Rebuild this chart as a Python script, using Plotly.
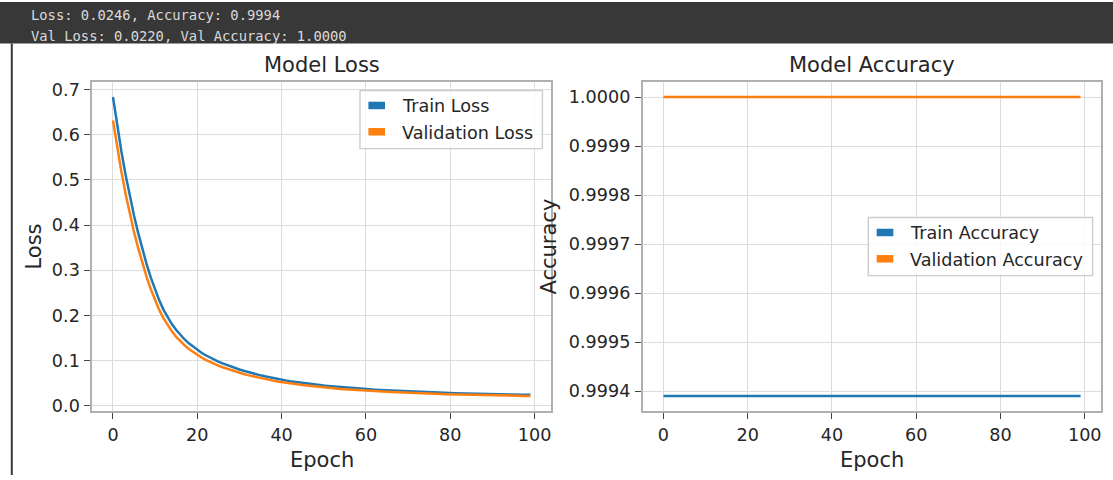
import plotly.graph_objects as go

# ---------------- data ----------------
epochs = list(range(100))

train_loss = [
    0.6830, 0.6199, 0.5625, 0.5105, 0.4633, 0.4205, 0.3816, 0.3457, 0.3128, 0.2830,
    0.2563, 0.2329, 0.2126, 0.1953, 0.1805, 0.1678, 0.1567, 0.1470, 0.1384, 0.1308,
    0.1239, 0.1177, 0.1121, 0.1070, 0.1023, 0.0980, 0.0941, 0.0904, 0.0869, 0.0837,
    0.0806, 0.0777, 0.0749, 0.0724, 0.0700, 0.0677, 0.0655, 0.0634, 0.0615, 0.0597,
    0.0579, 0.0563, 0.0548, 0.0534, 0.0520, 0.0507, 0.0494, 0.0483, 0.0471, 0.0461,
    0.0450, 0.0441, 0.0432, 0.0423, 0.0415, 0.0407, 0.0399, 0.0392, 0.0385, 0.0379,
    0.0373, 0.0367, 0.0361, 0.0356, 0.0351, 0.0345, 0.0340, 0.0335, 0.0331, 0.0326,
    0.0322, 0.0317, 0.0313, 0.0309, 0.0305, 0.0302, 0.0298, 0.0294, 0.0291, 0.0288,
    0.0285, 0.0282, 0.0279, 0.0277, 0.0274, 0.0272, 0.0269, 0.0267, 0.0265, 0.0263,
    0.0261, 0.0259, 0.0257, 0.0255, 0.0253, 0.0252, 0.0250, 0.0249, 0.0247, 0.0246,
]

val_loss = [
    0.6311, 0.5715, 0.5175, 0.4686, 0.4244, 0.3843, 0.3484, 0.3153, 0.2850, 0.2575,
    0.2332, 0.2119, 0.1935, 0.1777, 0.1643, 0.1527, 0.1426, 0.1338, 0.1259, 0.1190,
    0.1127, 0.1071, 0.1020, 0.0974, 0.0931, 0.0892, 0.0856, 0.0823, 0.0791, 0.0762,
    0.0733, 0.0707, 0.0682, 0.0659, 0.0637, 0.0616, 0.0596, 0.0577, 0.0560, 0.0543,
    0.0527, 0.0513, 0.0499, 0.0486, 0.0473, 0.0461, 0.0450, 0.0439, 0.0429, 0.0419,
    0.0410, 0.0401, 0.0393, 0.0385, 0.0377, 0.0370, 0.0363, 0.0357, 0.0351, 0.0345,
    0.0339, 0.0334, 0.0329, 0.0323, 0.0318, 0.0313, 0.0309, 0.0304, 0.0300, 0.0295,
    0.0291, 0.0287, 0.0283, 0.0280, 0.0276, 0.0273, 0.0269, 0.0266, 0.0263, 0.0260,
    0.0257, 0.0254, 0.0252, 0.0249, 0.0247, 0.0244, 0.0242, 0.0240, 0.0238, 0.0236,
    0.0234, 0.0232, 0.0230, 0.0229, 0.0227, 0.0226, 0.0224, 0.0223, 0.0221, 0.0220,
]

train_acc = [
    0.99939, 0.99939, 0.99939, 0.99939, 0.99939, 0.99939, 0.99939, 0.99939, 0.99939, 0.99939,
    0.99939, 0.99939, 0.99939, 0.99939, 0.99939, 0.99939, 0.99939, 0.99939, 0.99939, 0.99939,
    0.99939, 0.99939, 0.99939, 0.99939, 0.99939, 0.99939, 0.99939, 0.99939, 0.99939, 0.99939,
    0.99939, 0.99939, 0.99939, 0.99939, 0.99939, 0.99939, 0.99939, 0.99939, 0.99939, 0.99939,
    0.99939, 0.99939, 0.99939, 0.99939, 0.99939, 0.99939, 0.99939, 0.99939, 0.99939, 0.99939,
    0.99939, 0.99939, 0.99939, 0.99939, 0.99939, 0.99939, 0.99939, 0.99939, 0.99939, 0.99939,
    0.99939, 0.99939, 0.99939, 0.99939, 0.99939, 0.99939, 0.99939, 0.99939, 0.99939, 0.99939,
    0.99939, 0.99939, 0.99939, 0.99939, 0.99939, 0.99939, 0.99939, 0.99939, 0.99939, 0.99939,
    0.99939, 0.99939, 0.99939, 0.99939, 0.99939, 0.99939, 0.99939, 0.99939, 0.99939, 0.99939,
    0.99939, 0.99939, 0.99939, 0.99939, 0.99939, 0.99939, 0.99939, 0.99939, 0.99939, 0.99939,
]

val_acc = [
    1.0, 1.0, 1.0, 1.0, 1.0, 1.0, 1.0, 1.0, 1.0, 1.0,
    1.0, 1.0, 1.0, 1.0, 1.0, 1.0, 1.0, 1.0, 1.0, 1.0,
    1.0, 1.0, 1.0, 1.0, 1.0, 1.0, 1.0, 1.0, 1.0, 1.0,
    1.0, 1.0, 1.0, 1.0, 1.0, 1.0, 1.0, 1.0, 1.0, 1.0,
    1.0, 1.0, 1.0, 1.0, 1.0, 1.0, 1.0, 1.0, 1.0, 1.0,
    1.0, 1.0, 1.0, 1.0, 1.0, 1.0, 1.0, 1.0, 1.0, 1.0,
    1.0, 1.0, 1.0, 1.0, 1.0, 1.0, 1.0, 1.0, 1.0, 1.0,
    1.0, 1.0, 1.0, 1.0, 1.0, 1.0, 1.0, 1.0, 1.0, 1.0,
    1.0, 1.0, 1.0, 1.0, 1.0, 1.0, 1.0, 1.0, 1.0, 1.0,
    1.0, 1.0, 1.0, 1.0, 1.0, 1.0, 1.0, 1.0, 1.0, 1.0,
]

loss_names = ["Train Loss", "Validation Loss"]
acc_names = ["Train Accuracy", "Validation Accuracy"]
subplot_titles = ["Model Loss", "Model Accuracy"]
x_label = "Epoch"
y_labels = ["Loss", "Accuracy"]
epoch_ticks = [0, 20, 40, 60, 80, 100]
loss_ticks = [0.0, 0.1, 0.2, 0.3, 0.4, 0.5, 0.6, 0.7]
acc_ticks = [0.9994, 0.9995, 0.9996, 0.9997, 0.9998, 0.9999, 1.0]

header_lines = [
    f"Loss: {train_loss[-1]:.4f}, Accuracy: {train_acc[-1]:.4f}",
    f"Val Loss: {val_loss[-1]:.4f}, Val Accuracy: {val_acc[-1]:.4f}",
]

# ---------------- style / layout ----------------
W, H = 1113, 480
COLORS = ["#1f77b4", "#ff7f0e"]
FONT = "DejaVu Sans"
TXT = "#262626"


def px(x):
    return x / W


def py(y):
    return 1 - y / H


LEFT = (92.1, 551.2)
RIGHT = (642.6, 1101.4)
TOP, BOTTOM = 81.3, 415.0


def pad_range(lo, hi):
    m = 0.05 * (hi - lo)
    return [lo - m, hi + m]


x_range = pad_range(min(epochs), max(epochs))
loss_range = pad_range(min(min(train_loss), min(val_loss)), max(max(train_loss), max(val_loss)))
acc_range = pad_range(min(min(train_acc), min(val_acc)), max(max(train_acc), max(val_acc)))

axis_common = dict(
    showline=True, mirror=True, linecolor="#b0b0b0", linewidth=1.5,
    showgrid=True, gridcolor="#dcdcdc", gridwidth=1.2, zeroline=False,
    ticks="outside", ticklen=6, tickwidth=1.3, tickcolor="#444444",
    tickfont=dict(family=FONT, size=17.6, color=TXT),
    ticklabelstandoff=1,
)

fig = go.Figure()

for i, (name, ys) in enumerate(zip(loss_names, [train_loss, val_loss])):
    fig.add_trace(go.Scatter(x=epochs, y=ys, mode="lines", name=name,
                             line=dict(color=COLORS[i], width=2.5),
                             xaxis="x", yaxis="y", showlegend=False))
for i, (name, ys) in enumerate(zip(acc_names, [train_acc, val_acc])):
    fig.add_trace(go.Scatter(x=epochs, y=ys, mode="lines", name=name,
                             line=dict(color=COLORS[i], width=2.5),
                             xaxis="x2", yaxis="y2", showlegend=False))

fig.update_layout(
    width=W, height=H,
    margin=dict(l=0, r=0, t=0, b=0),
    paper_bgcolor="white", plot_bgcolor="white",
    showlegend=False,
    xaxis=dict(domain=[px(LEFT[0]), px(LEFT[1])], range=x_range, anchor="y",
               tickvals=epoch_ticks, **axis_common),
    yaxis=dict(domain=[py(BOTTOM), py(TOP)], range=loss_range, anchor="x",
               tickvals=loss_ticks, tickformat=".1f", **axis_common),
    xaxis2=dict(domain=[px(RIGHT[0]), px(RIGHT[1])], range=x_range, anchor="y2",
                tickvals=epoch_ticks, **axis_common),
    yaxis2=dict(domain=[py(BOTTOM), py(TOP)], range=acc_range, anchor="x2",
                tickvals=acc_ticks, tickformat=".4f", **axis_common),
)

shapes = []
annotations = []

# notebook output header bar + cell border
shapes.append(dict(type="rect", xref="paper", yref="paper", x0=0, x1=1, y0=py(42), y1=1,
                   fillcolor="#383838", line=dict(width=0), layer="below"))
shapes.append(dict(type="line", xref="paper", yref="paper", x0=px(11.8), x1=px(11.8),
                   y0=0, y1=py(42), line=dict(color="#3a3a3a", width=2)))
for line, yc in zip(header_lines, [13, 34]):
    annotations.append(dict(text=line, xref="paper", yref="paper", x=px(29), y=py(yc),
                            xanchor="left", yanchor="middle", showarrow=False,
                            font=dict(family="DejaVu Sans Mono", size=13.8, color="#dadada")))

# subplot titles and axis labels
for (x0, x1), title, ylab, ylab_x in zip([LEFT, RIGHT], subplot_titles, y_labels, [34, 549]):
    cx = (x0 + x1) / 2
    annotations.append(dict(text=title, xref="paper", yref="paper", x=px(cx), y=py(64),
                            xanchor="center", yanchor="middle", showarrow=False,
                            font=dict(family=FONT, size=21, color=TXT)))
    annotations.append(dict(text=x_label, xref="paper", yref="paper", x=px(cx), y=py(465),
                            xanchor="center", yanchor="middle", showarrow=False,
                            font=dict(family=FONT, size=21, color=TXT)))
    annotations.append(dict(text=ylab, xref="paper", yref="paper", x=px(ylab_x),
                            y=py((TOP + BOTTOM) / 2), textangle=-90,
                            xanchor="center", yanchor="middle", showarrow=False,
                            font=dict(family=FONT, size=21, color=TXT)))

# legends (matplotlib-like boxes)
legend_specs = [
    (loss_names, 360.0, 542.4, 89.8),
    (acc_names, 868.3, 1092.6, 218.7),
]
for names, bx0, bx1, by0 in legend_specs:
    by1 = by0 + 59
    shapes.append(dict(type="rect", xref="paper", yref="paper",
                       x0=px(bx0), x1=px(bx1), y0=py(by1), y1=py(by0),
                       fillcolor="rgba(255,255,255,0.8)",
                       line=dict(color="#cccccc", width=1.4), layer="above"))
    for k, name in enumerate(names):
        yc = by0 + 15.2 + 26.7 * k
        shapes.append(dict(type="rect", xref="paper", yref="paper",
                           x0=px(bx0 + 8.4), x1=px(bx0 + 25.0),
                           y0=py(yc + 3.8), y1=py(yc - 3.8),
                           fillcolor=COLORS[k], line=dict(width=0), layer="above"))
        annotations.append(dict(text=name, xref="paper", yref="paper",
                                x=px(bx0 + 40), y=py(yc + 1),
                                xanchor="left", yanchor="middle", showarrow=False,
                                font=dict(family=FONT, size=17.6, color=TXT)))

fig.update_layout(shapes=shapes, annotations=annotations)
fig.write_html(
    "out.html",
    config={"displayModeBar": False},
    post_script="document.body.style.margin='0';document.body.style.overflow='hidden';",
)
